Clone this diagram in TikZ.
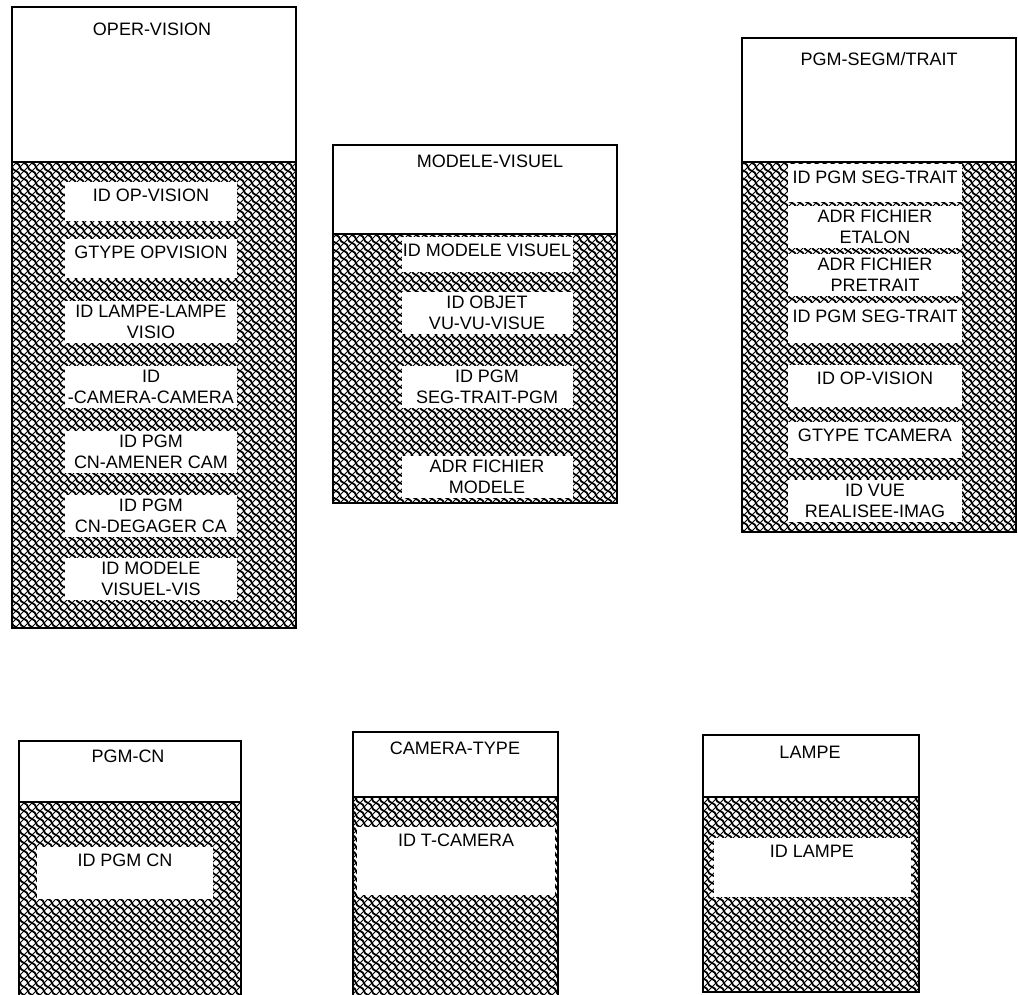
\documentclass[tikz,border=0pt]{standalone}
\usepackage{fontspec}
\setmainfont{Liberation Sans}
\usepackage{tikz}
\usetikzlibrary{patterns,positioning}
\newcommand\entfont{\fontsize{18}{21}\selectfont}
\pgfdeclarepatternformonly{weave}{\pgfqpoint{-1pt}{-1pt}}{\pgfqpoint{9pt}{9pt}}{\pgfqpoint{8pt}{8pt}}{%
  \pgfsetlinewidth{1.8pt}
  \pgfpathmoveto{\pgfqpoint{0pt}{8pt}}
  \pgfpathcurveto{\pgfqpoint{5pt}{7pt}}{\pgfqpoint{3pt}{1pt}}{\pgfqpoint{8pt}{0pt}}
  \pgfusepath{stroke}
  \pgfsetlinewidth{1pt}
  \pgfpathmoveto{\pgfqpoint{0pt}{0pt}}
  \pgfpathlineto{\pgfqpoint{8pt}{8pt}}
  \pgfusepath{stroke}
}
\tikzset{
  enthead/.style={
    rectangle, draw=black, line width=1.6pt, fill=white,
    anchor=north west, inner sep=0pt, outer sep=0pt
  },
  entbody/.style={
    rectangle, draw=black, line width=1.6pt, pattern=weave,
    anchor=north west, inner sep=0pt, outer sep=0pt
  },
  enttitle/.style={font=\entfont, anchor=north, inner sep=0pt},
  attrone/.style={
    rectangle, fill=white, font=\entfont, anchor=north,
    inner xsep=0pt, inner ysep=0pt, text height=19.5pt, text depth=#1
  },
  attrone/.default=19.5pt,
  attrtwo/.style={
    rectangle, fill=white, font=\entfont, anchor=north,
    inner xsep=0pt, inner ysep=4pt, align=center
  },
}

\begin{document}
\begin{tikzpicture}[x=1pt, y=-1pt]
  \useasboundingbox (0,0) rectangle (1018,995);

  % OPER-VISION
  \node (opv-head) [enthead, minimum width=284pt, minimum height=155pt] at (12,7) {};
  \node (opv-body) [entbody, minimum width=284pt, minimum height=466pt, below=0pt of opv-head] {};
  \node (opv-name) [enttitle] at (152,23) {OPER-VISION};
  \node (opv-a1) [attrone, minimum width=172pt] at (151,182) {ID OP-VISION};
  \node (opv-a2) [attrone, minimum width=172pt] at (151,239) {GTYPE OPVISION};
  \node (opv-a3) [attrtwo, minimum width=172pt] at (151,301) {ID LAMPE-LAMPE\\VISIO};
  \node (opv-a4) [attrtwo, minimum width=172pt] at (151,366) {ID\\-CAMERA-CAMERA};
  \node (opv-a5) [attrtwo, minimum width=172pt] at (151,431) {ID PGM\\CN-AMENER CAM};
  \node (opv-a6) [attrtwo, minimum width=172pt] at (151,495) {ID PGM\\CN-DEGAGER CA};
  \node (opv-a7) [attrtwo, minimum width=172pt] at (151,558) {ID MODELE\\VISUEL-VIS};

  % MODELE-VISUEL
  \node (mvi-head) [enthead, minimum width=284pt, minimum height=89pt] at (333,145) {};
  \node (mvi-body) [entbody, minimum width=284pt, minimum height=269pt, below=0pt of mvi-head] {};
  \node (mvi-name) [enttitle] at (490,155) {MODELE-VISUEL};
  \node (mvi-a1) [attrone=15.5pt, minimum width=171pt] at (487,237) {ID MODELE VISUEL};
  \node (mvi-a2) [attrtwo, minimum width=171pt] at (487,292) {ID OBJET\\VU-VU-VISUE};
  \node (mvi-a3) [attrtwo, minimum width=171pt] at (487,366) {ID PGM\\SEG-TRAIT-PGM};
  \node (mvi-a4) [attrtwo, minimum width=171pt] at (487,456) {ADR FICHIER\\MODELE};

  % PGM-SEGM/TRAIT
  \node (pst-head) [enthead, minimum width=274pt, minimum height=124pt] at (742,38) {};
  \node (pst-body) [entbody, minimum width=274pt, minimum height=370pt, below=0pt of pst-head] {};
  \node (pst-name) [enttitle] at (879,52) {PGM-SEGM/TRAIT};
  \node (pst-a1) [attrone=18.5pt, minimum width=174pt] at (875,164) {ID PGM SEG-TRAIT};
  \node (pst-a2) [attrtwo, minimum width=174pt] at (875,206) {ADR FICHIER\\ETALON};
  \node (pst-a3) [attrtwo, minimum width=174pt] at (875,254) {ADR FICHIER\\PRETRAIT};
  \node (pst-a4) [attrone=20.5pt, minimum width=174pt] at (875,303) {ID PGM SEG-TRAIT};
  \node (pst-a5) [attrone=22.5pt, minimum width=174pt] at (875,365) {ID OP-VISION};
  \node (pst-a6) [attrone=16.5pt, minimum width=174pt] at (875,422) {GTYPE TCAMERA};
  \node (pst-a7) [attrtwo, minimum width=174pt] at (875,480) {ID VUE\\REALISEE-IMAG};

  % PGM-CN
  \node (pcn-head) [enthead, minimum width=222pt, minimum height=61pt] at (19,741) {};
  \node (pcn-body) [entbody, minimum width=222pt, minimum height=200pt, below=0pt of pcn-head] {};
  \node (pcn-name) [enttitle] at (128,750) {PGM-CN};
  \node (pcn-a1) [attrone=32.5pt, minimum width=176pt] at (125,847) {ID PGM CN};

  % CAMERA-TYPE
  \node (cty-head) [enthead, minimum width=205pt, minimum height=65pt] at (353,732) {};
  \node (cty-body) [entbody, minimum width=205pt, minimum height=205pt, below=0pt of cty-head] {};
  \node (cty-name) [enttitle] at (455,742) {CAMERA-TYPE};
  \node (cty-a1) [attrone=48.5pt, minimum width=198pt] at (456,827) {ID T-CAMERA};

  % LAMPE
  \node (lmp-head) [enthead, minimum width=216pt, minimum height=62pt] at (703,735) {};
  \node (lmp-body) [entbody, minimum width=216pt, minimum height=195pt, below=0pt of lmp-head] {};
  \node (lmp-name) [enttitle] at (810,746) {LAMPE};
  \node (lmp-a1) [attrone=39.5pt, minimum width=197pt] at (812,838) {ID LAMPE};
\end{tikzpicture}
\end{document}
